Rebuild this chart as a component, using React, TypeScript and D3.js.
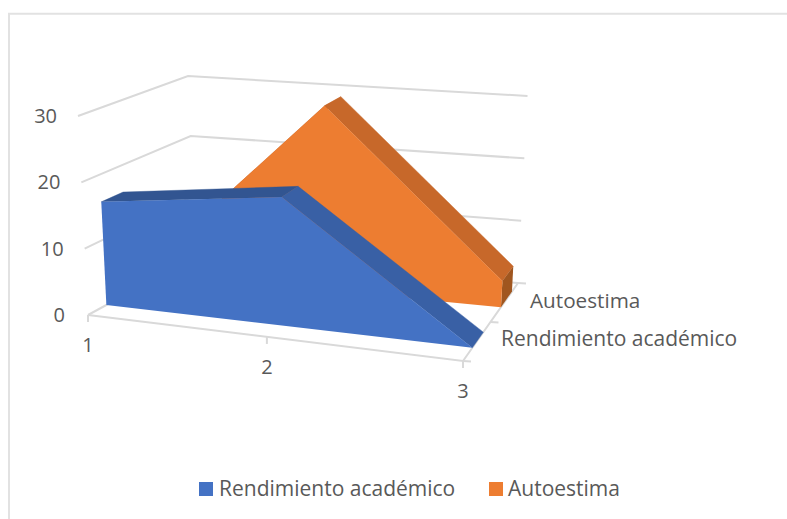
import React from "react";
import * as d3 from "d3";

const categories = [1, 2, 3];
const valueTicks = [0, 10, 20, 30];
const seriesNames = ["Rendimiento académico", "Autoestima"];
const rendimiento = [15.8, 19, 0];
const autoestima = [3.3, 29, 4];

const W = 787, H = 519;
const catPos = d3.scaleLinear().domain([1, 2, 3]).range([0, 0.477, 1]);
const valPos = d3.scaleLinear().domain([0, 30]).range([0, 1]);
const bandFront = [0.17, 0.69];
const bandBack = [0.37, 0.89];

// corner screen positions: [i][d][v]
const C: number[][][][] = [
  [[[88, 315], [78, 116]], [[196, 256], [188, 76]]],
  [[[463, 361], [477, 146]], [[518, 283], [527.5, 96]]],
];
const mix = (a: number, b: number, t: number) => a + (b - a) * t;
function project(cat: number, depth: number, value: number): [number, number] {
  const i = catPos(cat), v = valPos(value);
  const out = [0, 1].map((k) => {
    const a = mix(C[0][0][0][k], C[0][0][1][k], v);
    const b = mix(C[0][1][0][k], C[0][1][1][k], v);
    const c = mix(C[1][0][0][k], C[1][0][1][k], v);
    const e = mix(C[1][1][0][k], C[1][1][1][k], v);
    return mix(mix(a, b, depth), mix(c, e, depth), i);
  });
  return [out[0], out[1]];
}
const path = d3.line<[number, number]>().x((d) => d[0]).y((d) => d[1]);
const poly = (pts: [number, number][]) => path(pts) + "Z";

function Area3D({ values, s, front, top1, top2, cap }: { values: number[]; s: number; front: string; top1: string; top2: string; cap: string }) {
  const df = bandFront[s], db = bandBack[s];
  const last = categories[categories.length - 1];
  const faces = categories.slice(0, -1).map((c, k) => (
    <path key={c} fill={k === 0 ? top1 : top2} stroke={k === 0 ? top1 : top2} strokeWidth={0.4}
      d={poly([project(c, df, values[k]), project(c, db, values[k]), project(categories[k + 1], db, values[k + 1]), project(categories[k + 1], df, values[k + 1])])} />
  ));
  const lastV = values[values.length - 1];
  return (
    <g>
      {faces}
      <path fill={cap} d={poly([project(last, df, 0), project(last, db, 0), project(last, db, lastV), project(last, df, lastV)])} />
      <path fill={front} d={poly([
        ...categories.map((c, k) => project(c, df, values[k])),
        project(last, df, 0),
        project(categories[0], df, 0),
      ])} />
    </g>
  );
}

const grid = "#d9d9d9";
const txt = "#595959";
const font = "'Open Sans', sans-serif";

export default function App() {
  return (
    <svg width={W} height={H} viewBox={`0 0 ${W} ${H}`} style={{ position: "absolute", left: 0, top: 0 }} fontFamily={font}>
      <rect x={0} y={0} width={W} height={H} fill="#fff" />
      <path d={`M9 ${H}V13.7H${W}`} fill="none" stroke="#e2e2e2" strokeWidth={2} />
      {valueTicks.map((v) => (
        <path key={v} fill="none" stroke={grid} strokeWidth={2}
          d={path([project(1, 0, v), project(1, 1, v), project(3, 1, v)]) ?? ""} />
      ))}
      <path fill="none" stroke={grid} strokeWidth={2} d={path([project(1, 0, 0), project(3, 0, 0), project(3, 1, 0)]) ?? ""} />
      {categories.map((c) => {
        const p = project(c, 0, 0);
        return <line key={c} x1={p[0]} y1={p[1]} x2={p[0]} y2={p[1] + 7} stroke={grid} strokeWidth={2} />;
      })}
      {[0, 0.5, 1].map((d) => {
        const p = project(3, d, 0);
        return <line key={d} x1={p[0]} y1={p[1]} x2={p[0] + 8} y2={p[1] + 0.5} stroke={grid} strokeWidth={2} />;
      })}
      <Area3D values={autoestima} s={1} front="#ed7d31" top1="#c7682a" top2="#c7682a" cap="#a0561f" />
      <Area3D values={rendimiento} s={0} front="#4472c4" top1="#325591" top2="#3960a5" cap="#325591" />
      {valueTicks.map((v) => {
        const p = project(1, 0, v);
        return <text key={v} x={p[0] - 13 - (v === 0 ? 10 : 8)} y={p[1] + 7} textAnchor="end" fontSize={20} fill={txt}>{v}</text>;
      })}
      {categories.map((c) => {
        const p = project(c, 0, 0);
        return <text key={c} x={p[0]} y={p[1] + 37} textAnchor="middle" fontSize={20} fill={txt}>{c}</text>;
      })}
      <text x={530} y={308} fontSize={20.7} fill={txt}>{seriesNames[1]}</text>
      <text x={501} y={346} fontSize={21} fill={txt}>{seriesNames[0]}</text>
      <rect x={199} y={482} width={14} height={14} fill="#4472c4" />
      <text x={219} y={496} fontSize={21} fill={txt}>{seriesNames[0]}</text>
      <rect x={489} y={482} width={14} height={14} fill="#ed7d31" />
      <text x={508} y={496} fontSize={21} fill={txt}>{seriesNames[1]}</text>
    </svg>
  );
}
